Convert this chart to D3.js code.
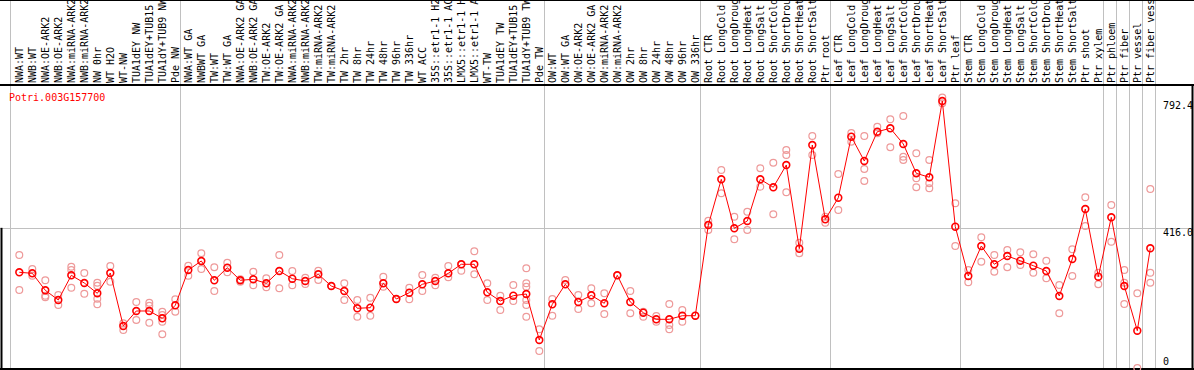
<!DOCTYPE html>
<html>
<head>
<meta charset="utf-8">
<script src="https://cdn.jsdelivr.net/npm/d3@7"></script>
<style>
  body { margin: 0; background: #fff; }
  svg { display: block; }
  text { font-family: "DejaVu Sans Mono", monospace; font-size: 10px; }
</style>
</head>
<body>
<svg id="chart" width="1194" height="370"></svg>
<script>
const geneName = 'Potri.003G157700';

const labels = [
  'NWA:WT', 'NWB:WT', 'NWA:OE-ARK2', 'NWB:OE-ARK2', 'NWA:miRNA-ARK2', 'NWB:miRNA-ARK2',
  'NW 0hr', 'WT H2O', 'WT-NW', 'TUA1dEY NW', 'TUA1dEY+TUB15 NW', 'TUA1dY+TUB9 NW', 'Pde NW',
  'NWA:WT GA', 'NWBWT GA', 'TW:WT', 'TW:WT GA', 'NWA:OE-ARK2 GA', 'NWB:OE-ARK2 GA',
  'TW:OE-ARK2', 'TW:OE-ARK2 GA', 'NWA:miRNA-ARK2 GA', 'NWB:miRNA-ARK2 GA', 'TW:miRNA-ARK2',
  'TW:miRNA-ARK2 GA', 'TW 2hr', 'TW 8hr', 'TW 24hr', 'TW 48hr', 'TW 96hr', 'TW 336hr',
  'WT ACC', '35S::etr1-1 H2O', '35S::etr1-1 ACC', 'LMX5::etr1-1 H2O', 'LMX5::etr1-1 ACC',
  'WT-TW', 'TUA1dEY TW', 'TUA1dEY+TUB15 TW', 'TUA1dY+TUB9 TW', 'Pde TW',
  'OW:WT', 'OW:WT GA', 'OW:OE-ARK2', 'OW:OE-ARK2 GA', 'OW:miRNA-ARK2', 'OW:miRNA-ARK2 GA',
  'OW 2hr', 'OW 8hr', 'OW 24hr', 'OW 48hr', 'OW 96hr', 'OW 336hr',
  'Root CTR', 'Root LongCold', 'Root LongDrought', 'Root LongHeat', 'Root LongSalt',
  'Root ShortCold', 'Root ShortDrought', 'Root ShortHeat', 'Root ShortSalt', 'Ptr root',
  'Leaf CTR', 'Leaf LongCold', 'Leaf LongDrought', 'Leaf LongHeat', 'Leaf LongSalt',
  'Leaf ShortCold', 'Leaf ShortDrought', 'Leaf ShortHeat', 'Leaf ShortSalt', 'Ptr leaf',
  'Stem CTR', 'Stem LongCold', 'Stem LongDrought', 'Stem LongHeat', 'Stem LongSalt',
  'Stem ShortCold', 'Stem ShortDrought', 'Stem ShortHeat', 'Stem ShortSalt', 'Ptr shoot',
  'Ptr xylem', 'Ptr phloem', 'Ptr fiber', 'Ptr vessel', 'Ptr fiber vessel'
];

// mean expression per sample
const means = [
  284.0, 281.1, 230.6, 201.8, 275.1, 252.3, 221.7, 281.9, 124.6, 169.2, 169.2, 147.5, 186.1,
  290.8, 317.6, 260.3, 297.7, 260.3, 263.2, 251.4, 287.9, 265.0, 258.2, 278.1, 243.4, 228.5,
  177.2, 179.0, 251.4, 204.8, 223.5, 248.4, 258.2, 281.1, 307.8, 307.8, 224.7, 198.8, 214.6,
  219.6, 83.1, 189.0, 248.4, 195.9, 215.8, 192.0, 275.1, 195.9, 164.1, 144.5, 144.5, 155.2,
  155.2, 424.4, 560.0, 414.6, 436.3, 560.0, 536.3, 602.5, 354.1, 661.8, 441.3, 505.4, 686.5,
  614.3, 701.3, 711.4, 664.8, 577.8, 566.0, 792.4, 419.4, 273.0, 362.1, 307.8, 332.4, 318.4,
  303.6, 287.9, 213.7, 323.5, 471.9, 271.0, 447.3, 243.4, 110.7, 355.2
];

// single replicates per sample
const replicates = [
  [335.4, 231.5], [293.8, 273.9], [260.3, 209.8, 214.6], [216.6, 187.0], [300.6, 290.8, 238.3],
  [281.9, 220.5], [253.2, 244.2, 205.7, 189.0], [302.7, 256.1], [132.7, 112.8], [195.9, 142.5],
  [193.8, 184.9, 134.4], [167.1, 157.3, 137.4, 100.0], [203.9, 167.1], [303.6, 273.9],
  [340.4, 293.8], [298.9, 228.5], [312.5, 284.0], [263.2, 256.1], [285.8, 245.4], [266.2, 239.5],
  [335.4, 236.5], [287.9, 245.4], [268.0, 249.3], [288.8, 261.2], [243.4], [251.4, 201.8],
  [201.8, 152.2], [208.6, 155.2], [271.0, 241.3], [204.8], [238.3, 203.9], [276.0, 228.5],
  [268.0, 245.4], [302.7, 269.2], [288.8, 307.8], [346.3, 278.1], [251.4, 201.8], [214.6, 172.1],
  [246.3, 198.8], [295.9, 251.4, 241.3, 201.8, 187.0, 152.2], [114.9, 50.5], [204.8, 155.2],
  [261.2], [216.6, 175.1], [236.5, 192.0], [221.7, 160.3], [275.1], [228.5, 162.3], [167.1, 152.2],
  [154.3, 137.4], [189.9, 127.6, 114.9], [172.1, 137.4], [155.2], [437.2, 409.6], [587.6, 518.5],
  [449.0, 381.9], [463.9, 409.6], [592.7, 538.1], [609.3, 456.1], [647.0, 632.1, 521.4],
  [371.9, 340.4], [688.5, 632.1], [449.0, 431.2], [575.8, 468.9], [697.4, 671.6],
  [688.5, 590.6, 555.0], [716.1, 696.5], [738.1, 655.0], [747.9, 627.1, 617.3],
  [637.2, 563.0, 536.3], [617.3, 548.2, 533.3], [803.0, 785.6], [488.8, 362.1], [290.8, 254.3],
  [387.9, 315.5], [335.4, 285.8], [350.2, 298.9], [343.4, 305.7], [337.4, 282.8], [318.4, 266.2],
  [246.3, 162.3], [352.3, 273.0], [506.6, 421.4], [282.8, 248.4], [483.8, 374.8],
  [290.8, 253.2, 189.9], [221.7, 0], [531.2, 282.8, 253.2]
];

// first sample index of each group (gray separators)
const groupStarts = [13, 41, 53, 63, 73, 84, 85, 86, 87, 88];
const yTicks = [792.4, 416.0, 0];

main();

function main () {
  const svg = d3.select('svg#chart');
  const W = 1194;
  const labelBottom = 85;
  const plotBottom = 368;

  const x = d3.scalePoint()
    .domain(d3.range(labels.length))
    .range([19.3, 19.3 + 13 * (labels.length - 1)]);
  const y = d3.scaleLinear().domain([0, 792.4]).range([plotBottom, 101]);

  svg.append('rect').attr('width', W).attr('height', 370).attr('fill', '#fff');

  // labels are cut at the top border, like the original
  svg.append('clipPath').attr('id', 'labelClip')
    .append('rect').attr('x', 0).attr('y', 1).attr('width', W).attr('height', labelBottom - 1);

  // gray grid
  svg.append('line')
    .attr('x1', 0).attr('x2', W - 1)
    .attr('y1', Math.round(y(416.0)) + 0.5).attr('y2', Math.round(y(416.0)) + 0.5)
    .attr('stroke', '#c0c0c0');
  svg.append('line')
    .attr('x1', 10.5).attr('x2', 10.5).attr('y1', 0).attr('y2', 370)
    .attr('stroke', '#c0c0c0');
  groupStarts.forEach(i => {
    const gx = Math.round(x(i - 1) + 5) + 0.5;
    svg.append('line')
      .attr('x1', gx).attr('x2', gx).attr('y1', 0).attr('y2', 370)
      .attr('stroke', '#c0c0c0');
  });

  // sample labels, rotated
  svg.append('g').attr('clip-path', 'url(#labelClip)')
    .selectAll('text.sample')
    .data(labels)
    .join('text')
    .attr('class', 'sample')
    .attr('transform', (d, i) => `translate(${x(i)},${labelBottom - 2}) rotate(-90)`)
    .attr('dy', '0.36em')
    .attr('fill', '#000')
    .text(d => d);

  // frame
  svg.append('line').attr('x1', 0).attr('x2', W).attr('y1', 0.5).attr('y2', 0.5)
    .attr('stroke', '#000');
  svg.append('line').attr('x1', 0).attr('x2', W).attr('y1', labelBottom).attr('y2', labelBottom)
    .attr('stroke', '#000').attr('stroke-width', 2);
  svg.append('line').attr('x1', 0).attr('x2', W).attr('y1', plotBottom + 1).attr('y2', plotBottom + 1)
    .attr('stroke', '#000').attr('stroke-width', 2);
  svg.append('line').attr('x1', W - 1.5).attr('x2', W - 1.5).attr('y1', labelBottom).attr('y2', 370)
    .attr('stroke', '#000').attr('stroke-width', 2);
  svg.append('line').attr('x1', 1.5).attr('x2', 1.5).attr('y1', y(416.0)).attr('y2', 370)
    .attr('stroke', '#000').attr('stroke-width', 2);

  // gene name
  svg.append('text')
    .attr('x', 9).attr('y', 101)
    .attr('fill', '#ff0000')
    .text(geneName);

  // right-hand value labels
  yTicks.forEach(t => {
    svg.append('text')
      .attr('x', 1163)
      .attr('y', t === 0 ? y(t) - 3 : y(t) + 8)
      .attr('fill', '#000')
      .text(t === 0 ? '0' : t.toFixed(1));
  });

  // replicates
  const repPoints = [];
  replicates.forEach((vals, i) => vals.forEach(v => repPoints.push([i, v])));
  svg.selectAll('circle.rep')
    .data(repPoints)
    .join('circle')
    .attr('class', 'rep')
    .attr('cx', d => x(d[0]))
    .attr('cy', d => y(d[1]))
    .attr('r', 3.4)
    .attr('fill', 'none')
    .attr('stroke', '#ee9a9a')
    .attr('stroke-width', 1.2);

  // mean line
  const line = d3.line().x((d, i) => x(i)).y(d => y(d));
  svg.append('path')
    .attr('d', line(means))
    .attr('fill', 'none')
    .attr('stroke', '#ff0000')
    .attr('stroke-width', 1);

  svg.selectAll('circle.mean')
    .data(means)
    .join('circle')
    .attr('class', 'mean')
    .attr('cx', (d, i) => x(i))
    .attr('cy', d => y(d))
    .attr('r', 3.4)
    .attr('fill', 'none')
    .attr('stroke', '#ff0000')
    .attr('stroke-width', 1.6);
}
</script>
</body>
</html>
